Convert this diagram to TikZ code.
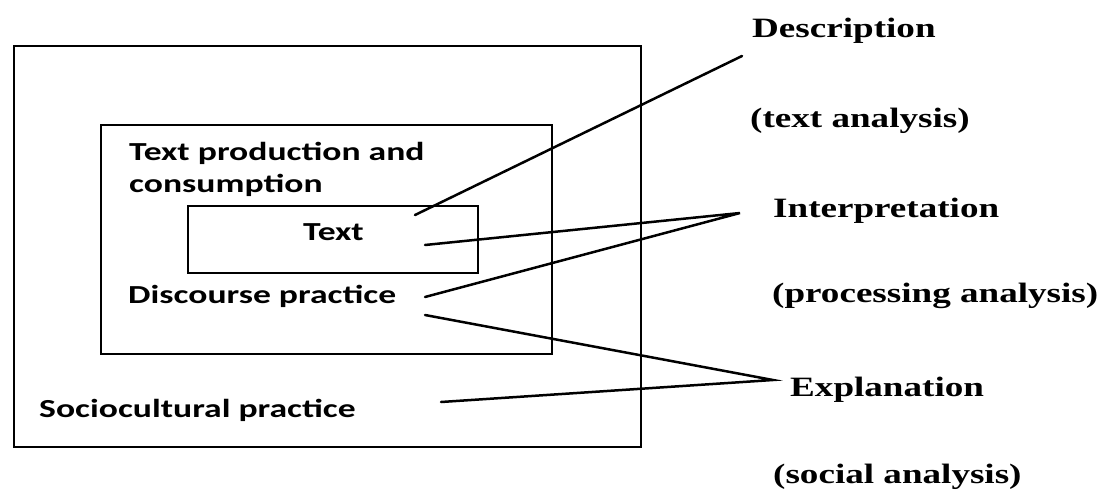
\documentclass[tikz,border=0pt]{standalone}
\usepackage{fontspec}
\setmainfont{Liberation Serif}
\newfontfamily\boxfont{Carlito}
\tikzset{
  frame/.style={draw, line width=2.8pt},
  conn/.style={draw, line width=2.5pt, line cap=round},
  boxlabel/.style={anchor=base west, inner sep=0pt, font=\boxfont\bfseries\fontsize{26}{28}\selectfont},
  sidelabel/.style={anchor=base west, inner sep=0pt, font=\bfseries\fontsize{28}{30}\selectfont},
}
\newcommand{\sx}[1]{\scalebox{1.37}[1]{#1}}
\newcommand{\rx}[1]{\scalebox{1.325}[1]{#1}}
\begin{document}
\begin{tikzpicture}[x=1pt,y=-1pt]
\useasboundingbox (0,0) rectangle (1112,493);
% boxes
\coordinate (oTL) at (14,46);  \coordinate (oBR) at (641,447);
\coordinate (mTL) at (101,125); \coordinate (mBR) at (552,354);
\coordinate (iTL) at (188,206); \coordinate (iBR) at (478,273);
\draw[frame] (oTL) rectangle (oBR);
\draw[frame] (mTL) rectangle (mBR);
\draw[frame] (iTL) rectangle (iBR);
% box labels
\node[boxlabel] (tp1) at (129,160) {\sx{Text production and}};
\node[boxlabel] (tp2) at (129,192) {\sx{consumption}};
\node[boxlabel] (txt) at (303,240) {\sx{Text}};
\node[boxlabel] (disc) at (128,303) {\sx{Discourse practice}};
\node[boxlabel] (soc) at (39,417) {\sx{Sociocultural practice}};
% side labels
\node[sidelabel] (desc) at (752,37) {\rx{Description}};
\node[sidelabel] (desc2) at (750,127) {\rx{(text analysis)}};
\node[sidelabel] (interp) at (773,217) {\rx{Interpretation}};
\node[sidelabel] (interp2) at (772,302) {\rx{(processing analysis)}};
\node[sidelabel] (expl) at (790,396) {\rx{Explanation}};
\node[sidelabel] (expl2) at (773,483) {\rx{(social analysis)}};
% connector ends
\coordinate (d0) at (415,215); \coordinate (d1) at (742,56);
\coordinate (i0) at (425,245); \coordinate (i1) at (425,297); \coordinate (iA) at (740,213);
\coordinate (e0) at (425,315); \coordinate (e1) at (441,402); \coordinate (eA) at (773,380);
\draw[conn] (d0) -- (d1);
\draw[conn] (i0) -- (iA) -- (i1);
\draw[conn] (e0) -- (eA) -- (e1);
\end{tikzpicture}
\end{document}
